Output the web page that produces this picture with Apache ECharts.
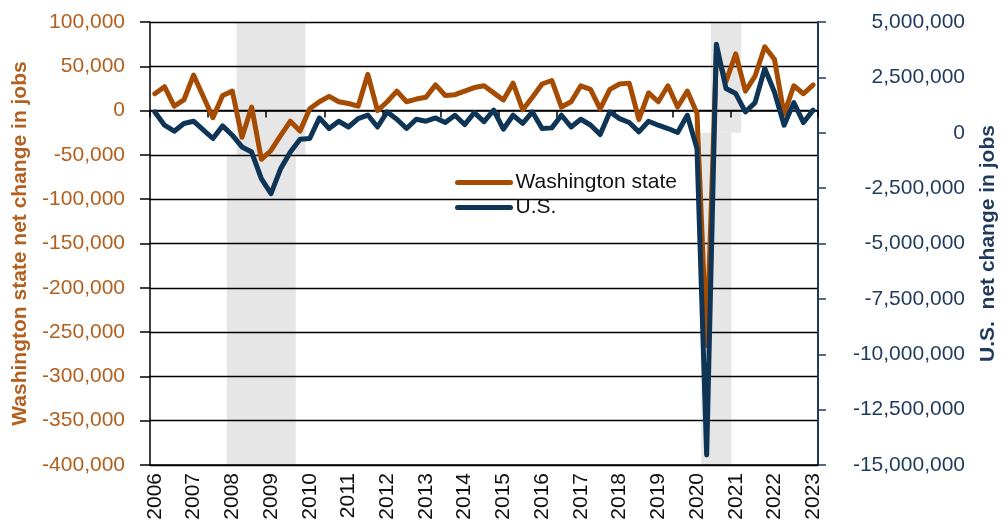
<!DOCTYPE html>
<html>
<head>
<meta charset="utf-8">
<script src="https://cdn.jsdelivr.net/npm/echarts@6/dist/echarts.min.js"></script>
<style>
html,body{margin:0;padding:0;background:#fff}
#main{width:1005px;height:532px}
</style>
</head>
<body>
<div id="main"></div>
<script>
// years on the axis (quarterly data, 2006 Q1 - 2023 Q1)
var years = [2006,2007,2008,2009,2010,2011,2012,2013,2014,2015,2016,2017,2018,2019,2020,2021,2022,2023];
var quarters = ['Q1','Q2','Q3','Q4'];

// Washington state net change in jobs
var washington = [19000,27000,5000,12000,40000,16000,-8000,17000,22000,-30000,
  4000,-55000,-45000,-28000,-12000,-23000,2000,10000,16000,10000,
  8000,5000,41000,0,10000,22000,10000,13000,15000,29000,
  17000,18000,22000,26000,28000,20000,12000,31000,1000,15000,
  30000,34000,4000,10000,28000,24000,2000,24000,30000,31000,
  -10000,20000,10000,28000,4000,22000,-3000,-265000,65000,33000,
  64000,22000,39000,72000,58000,-4000,28000,19000,29000];

// U.S. net change in jobs
var us = [940000,340000,70000,420000,520000,130000,-260000,310000,-110000,-640000,
  -870000,-2070000,-2750000,-1620000,-870000,-290000,-260000,670000,190000,520000,
  260000,640000,800000,260000,940000,610000,190000,610000,520000,670000,
  460000,790000,370000,910000,500000,1020000,160000,790000,420000,940000,
  190000,220000,790000,260000,610000,350000,-80000,940000,640000,460000,
  40000,520000,340000,190000,10000,790000,-710000,-14550000,4000000,2000000,
  1770000,940000,1360000,2900000,1840000,340000,1360000,460000,1020000];

// recession shading (category index ranges), drawn in two pieces
var recTopStart = [9, 58];
var recTopEnd = [15, 60];
var recLowStart = [8, 57];
var recLowEnd = [14, 59];
var recSplit = [-50000, -25000];

var leftTicks = {min: -400000, max: 100000, interval: 50000};
var rightTicks = {min: -15000000, max: 5000000, interval: 2500000};

var categories = [];
years.forEach(function(y){
  quarters.forEach(function(q){
    if (y < 2023 || q === 'Q1') categories.push(y + ' ' + q);
  });
});

var topUp = [], topDown = [], lowBase = [], lowFill = [];
for (var i = 0; i < categories.length; i++) {
  topUp.push('-'); topDown.push('-'); lowBase.push('-'); lowFill.push('-');
}
recTopStart.forEach(function(s, k){
  for (var i = s; i <= recTopEnd[k]; i++) { topUp[i] = leftTicks.max; topDown[i] = recSplit[k]; }
});
recLowStart.forEach(function(s, k){
  for (var i = s; i <= recLowEnd[k]; i++) { lowBase[i] = recSplit[k]; lowFill[i] = leftTicks.min - recSplit[k]; }
});

var ORANGE = '#A64C02';
var ORANGE_TXT = '#B3601F';
var NAVY = '#0E3456';
var NAVY_TXT = '#1F3A5C';
var GREY = '#E6E6E6';
var FONT = 'Liberation Sans, Arial, sans-serif';

function fmt(v){ return v.toLocaleString('en-US'); }

var shadeBar = {
  type: 'bar', xAxisIndex: 0, yAxisIndex: 0, barWidth: '112%', barGap: '-100%',
  z: -1, silent: true, itemStyle: {color: GREY}
};

var myChart = echarts.init(document.getElementById('main'));
myChart.setOption({
  animation: false,
  grid: {left: 150, right: 187, top: 22, bottom: 67, outerBoundsMode: 'none', containLabel: false},
  legend: {
    data: ['Washington state', 'U.S.'],
    orient: 'vertical', left: 450, top: 167, itemGap: 4,
    itemWidth: 53, itemHeight: 14,
    itemStyle: {opacity: 0},
    lineStyle: {width: 5, cap: 'round'},
    textStyle: {fontFamily: FONT, fontSize: 21, color: '#111'}
  },
  xAxis: [
    {
      type: 'category', data: categories, position: 'bottom',
      axisLine: {onZero: false, lineStyle: {color: '#000', width: 1.5}},
      axisTick: {show: false},
      axisLabel: {
        interval: 3, rotate: 90, margin: 8, color: '#111',
        fontFamily: FONT, fontSize: 21,
        formatter: function(v){ return v.slice(0, 4); }
      }
    },
    {
      type: 'category', data: categories, position: 'bottom',
      axisLine: {onZero: true, onZeroAxisIndex: 0, lineStyle: {color: '#000', width: 1.5}},
      axisTick: {show: true, interval: 5, length: 7, lineStyle: {color: '#000', width: 1.5}},
      axisLabel: {show: false}
    }
  ],
  yAxis: [
    {
      type: 'value', position: 'left',
      min: leftTicks.min, max: leftTicks.max, interval: leftTicks.interval,
      name: 'Washington state net change in jobs', nameLocation: 'middle', nameRotate: 90,
      nameGap: 114,
      nameTextStyle: {color: ORANGE_TXT, fontFamily: FONT, fontSize: 21, fontWeight: 'bold'},
      axisLine: {show: true, lineStyle: {color: '#000', width: 1.5}},
      axisTick: {show: true, length: 10, lineStyle: {color: '#000', width: 1.5}},
      axisLabel: {color: ORANGE_TXT, fontFamily: FONT, fontSize: 21, margin: 25, formatter: fmt},
      splitLine: {show: true, lineStyle: {color: '#000', width: 1.3}}
    },
    {
      type: 'value', position: 'right',
      min: rightTicks.min, max: rightTicks.max, interval: rightTicks.interval,
      name: 'U.S.  net change in jobs', nameLocation: 'middle', nameRotate: 90,
      nameGap: 160,
      nameTextStyle: {color: NAVY_TXT, fontFamily: FONT, fontSize: 21, fontWeight: 'bold'},
      axisLine: {show: true, lineStyle: {color: NAVY_TXT, width: 2}},
      axisTick: {show: true, length: 8, lineStyle: {color: NAVY_TXT, width: 1.5}},
      axisLabel: {color: NAVY_TXT, fontFamily: FONT, fontSize: 21, margin: 147, align: 'right', formatter: fmt},
      splitLine: {show: false}
    }
  ],
  series: [
    Object.assign({}, shadeBar, {name: 'recTopUp', data: topUp}),
    Object.assign({}, shadeBar, {name: 'recTopDown', data: topDown}),
    Object.assign({}, shadeBar, {name: 'recLowBase', stack: 'low', data: lowBase, itemStyle: {color: 'rgba(0,0,0,0)'}}),
    Object.assign({}, shadeBar, {name: 'recLowFill', stack: 'low', data: lowFill}),
    {
      name: 'Washington state', type: 'line', xAxisIndex: 0, yAxisIndex: 0,
      data: washington, symbol: 'none', z: 3,
      lineStyle: {color: ORANGE, width: 5, cap: 'round', join: 'round'},
      itemStyle: {color: ORANGE}
    },
    {
      name: 'U.S.', type: 'line', xAxisIndex: 0, yAxisIndex: 1,
      data: us, symbol: 'none', z: 4,
      lineStyle: {color: NAVY, width: 5, cap: 'round', join: 'round'},
      itemStyle: {color: NAVY}
    }
  ]
});
</script>
</body>
</html>
